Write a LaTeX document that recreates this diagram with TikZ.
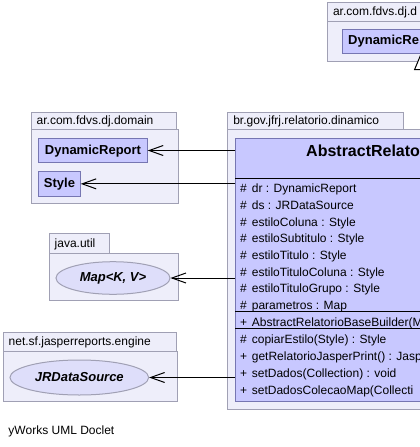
\documentclass[tikz,border=0pt]{standalone}
\usepackage{fontspec}
\setmainfont{Liberation Sans}
\usepackage{tikz}
\usetikzlibrary{arrows.meta}
\usetikzlibrary{positioning}
\usetikzlibrary{calc}
\usetikzlibrary{shapes.geometric}
\definecolor{pkgfill}{RGB}{238,238,250}
\definecolor{pkgline}{RGB}{160,160,180}
\definecolor{clsfill}{RGB}{200,200,255}
\definecolor{clsline}{RGB}{118,118,178}
\definecolor{ifcfill}{RGB}{222,222,250}
\tikzset{basic box/.style={draw,rectangle,inner sep=0pt,anchor=north west,line width=1pt}}
\tikzset{pkg body/.style={basic box,draw=pkgline,fill=pkgfill}}
\tikzset{pkg tab/.style 2 args={pkg body,inner xsep=5.5pt,text width=#1,
                                minimum height=#2,align=left,
                                font=\fontsize{12}{14}\selectfont,
                                text height=10pt,text depth=3pt}}
\tikzset{cls box/.style={basic box,draw=clsline,fill=clsfill}}
\newcommand{\CLSFONT}{\bfseries\fontsize{13}{15}\selectfont}
\newcommand{\MEMFONT}{\fontsize{12}{14}\selectfont}

\begin{document}
\begin{tikzpicture}
      [
      x=1pt,y=-1pt,
      member/.style={anchor=base west,inner sep=0pt,font=\MEMFONT},
      iface/.style={ellipse,draw=pkgline,fill=ifcfill,line width=1pt,inner sep=0pt,
      font=\CLSFONT\itshape},
      dep/.style={draw,line width=1pt,-{Straight Barb[length=14pt,width=10pt]}},
      gen/.style={draw,line width=1pt,-{Triangle[length=16pt,width=13pt,fill=white]}},
      ]

      \useasboundingbox (0,0) rectangle (420,447);
      \clip (0,0) rectangle (420,447);

      % packages
      \node [pkg body,minimum width=150pt,minimum height=40pt] (P5) at (327,21) {};
      \node [pkg tab={138pt}{19pt}] (P5tab) at (327,2) {ar.com.fdvs.dj.d};

      \node [pkg body,minimum width=147pt,minimum height=74pt] (P1) at (30.7,129) {};
      \node [pkg tab={134pt}{17.3pt}] (P1tab) at (30.7,111.7) {ar.com.fdvs.dj.domain};

      \node [pkg body,minimum width=129pt,minimum height=47.3pt] (P2) at (48.7,252.7) {};
      \node [pkg tab={49.6pt}{19.4pt}] (P2tab) at (48.7,233.3) {java.util};

      \node [pkg body,minimum width=174pt,minimum height=50pt] (P3) at (2.7,351) {};
      \node [pkg tab={162pt}{18.7pt}] (P3tab) at (2.7,332.3) {net.sf.jasperreports.engine};

      \node [pkg body,minimum width=400pt,minimum height=280pt] (P4) at (227.3,129) {};
      \node [pkg tab={164.7pt}{17pt}] (P4tab) at (227.3,112) {br.gov.jfrj.relatorio.dinamico};

      % classes
      \node [cls box,minimum width=120pt,minimum height=24pt] (DRB) at (341.7,29) {};
      \node [anchor=west,inner sep=0pt,font=\CLSFONT] (DRBname) at ([xshift=6.3pt]DRB.west) {DynamicRe};

      \node [cls box,minimum width=108.4pt,minimum height=23.4pt,font=\CLSFONT,
      text height=9.5pt,text depth=2.5pt] (DR) at (38.3,138.3) {DynamicReport};
      \node [cls box,minimum width=41.4pt,minimum height=24.7pt,font=\CLSFONT,
      text height=9.5pt,text depth=2.5pt] (ST) at (38.3,171) {Style};

      \node [iface,minimum width=114pt,minimum height=32.6pt] (MAP) at (113,278) {Map<K, V>};
      \node [iface,minimum width=138.7pt,minimum height=35pt] (JRDS) at (79.3,377.5) {JRDataSource};

      \node [cls box,minimum width=370pt,minimum height=263pt] (AR) at (235,138) {};
      \node [anchor=west,inner sep=0pt,font=\bfseries\fontsize{16}{19}\selectfont] (ARname)
      at (306,150.5) {AbstractRelato};

      \draw [line width=1pt] (AR.west |- 0,178) -- (AR.east |- 0,178);
      \draw [line width=1pt] (AR.west |- 0,311) -- (AR.east |- 0,311);
      \draw [line width=1pt] (AR.west |- 0,328) -- (AR.east |- 0,328);

      % members
      \foreach \i/\v/\l [evaluate=\i as \y using 192.8+16.65*(\i-1)] in
      {
      1/\#/dr : DynamicReport,
      2/\#/ds : JRDataSource,
      3/\#/estiloColuna : Style,
      4/\#/estiloSubtitulo : Style,
      5/\#/estiloTitulo : Style,
      6/\#/estiloTituloColuna : Style,
      7/\#/estiloTituloGrupo : Style,
      8/\#/parametros : Map
      }
      {
      \node [member] (F\i) at (240,\y) {\makebox[11.7pt][l]{\v}\l};
      }

      \node [member] (C1) at (240,326) {\makebox[11.7pt][l]{+}AbstractRelatorioBaseBuilder(M};

      \foreach \i/\v/\l [evaluate=\i as \y using 343.6+16.8*(\i-1)] in
      {
      1/\#/copiarEstilo(Style) : Style,
      2/+/getRelatorioJasperPrint() : Jasp,
      3/+/setDados(Collection) : void,
      4/+/setDadosColecaoMap(Collecti
      }
      {
      \node [member] (M\i) at (240,\y) {\makebox[11.7pt][l]{\v}\l};
      }

      % edges
      \draw [gen] (AR.north) -- (AR.north |- DRB.south);
      \draw [dep] (DR.east -| AR.west) -- (DR.east);
      \draw [dep] (ST.east -| AR.west) -- (ST.east);
      \draw [dep] (MAP.east -| AR.west) -- (MAP.east);
      \draw [dep] (JRDS.east -| AR.west) -- (JRDS.east);

      \node [member] (doclet) at (8.3,434) {yWorks UML Doclet};

    \end{tikzpicture}
\end{document}
